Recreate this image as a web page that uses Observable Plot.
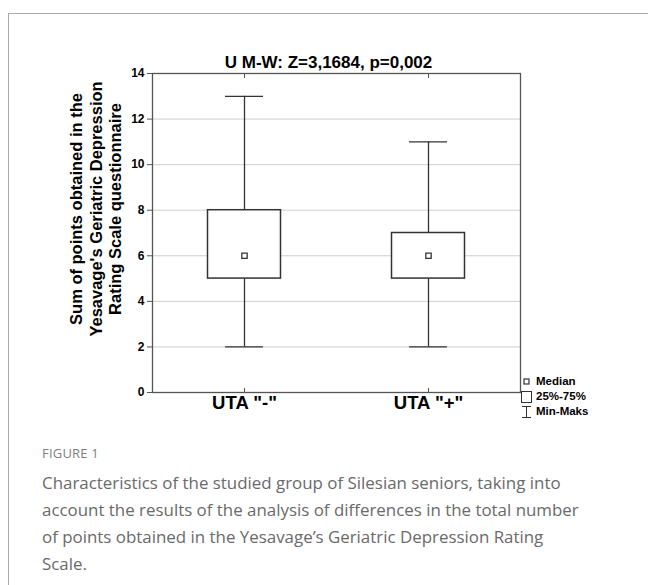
<!DOCTYPE html>
<html>
<head>
<meta charset="utf-8">
<script src="https://cdn.jsdelivr.net/npm/d3@7"></script>
<script src="https://cdn.jsdelivr.net/npm/@observablehq/plot@0.6"></script>
<style>
  html, body { margin: 0; padding: 0; background: #fff; }
  body { width: 648px; height: 585px; position: relative; overflow: hidden; }
  #card { position: absolute; left: 8px; top: 13px; width: 800px; height: 800px; border: 1px solid #aaa; box-sizing: border-box; }
  #chart { position: absolute; left: 0; top: 0; }
  #legend { position: absolute; left: 521px; top: 374px; font: bold 11.5px "Liberation Sans", Arial, sans-serif; color: #000; }
  #legend div { height: 15px; line-height: 15px; display: flex; align-items: center; }
  #legend svg { margin-right: 4px; }
  #figlabel { position: absolute; left: 42px; top: 444px; font: 13px "Open Sans", sans-serif; color: #808080; letter-spacing: 0.2px; }
  #caption { position: absolute; left: 42px; top: 469px; font: 16.9px/27px "Open Sans", sans-serif; color: #6a6a6a; width: 610px; }
</style>
</head>
<body>
<div id="card"></div>
<div id="chart"></div>
<div id="legend">
  <div><svg width="11" height="9"><rect x="3" y="2" width="5" height="5" fill="white" stroke="#333" stroke-width="1.2"/></svg>Median</div>
  <div><svg width="11" height="12"><rect x="0.5" y="0.5" width="10" height="11" fill="white" stroke="#333" stroke-width="1"/></svg>25%-75%</div>
  <div><svg width="11" height="14"><path d="M1,1.5H10M5.5,1.5V12.5M1,12.5H10" fill="none" stroke="#333" stroke-width="1"/></svg>Min-Maks</div>
</div>
<div id="figlabel">FIGURE 1</div>
<div id="caption">Characteristics of the studied group of Silesian seniors, taking into<br>account the results of the analysis of differences in the total number<br>of points obtained in the Yesavage’s Geriatric Depression Rating<br>Scale.</div>
<script>
const groups = ['UTA "-"', 'UTA "+"'];
const minVals = [2, 2];
const q1Vals = [5, 5];
const medianVals = [6, 6];
const q3Vals = [8, 7];
const maxVals = [13, 11];
const yTicks = [0, 2, 4, 6, 8, 10, 12, 14];
const titleText = "U M-W: Z=3,1684, p=0,002";
const yLabel = "Sum of points obtained in the\nYesavage's Geriatric Depression\nRating Scale questionnaire";

const data = groups.map((g, i) => ({
  group: g, min: minVals[i], q1: q1Vals[i], median: medianVals[i], q3: q3Vals[i], max: maxVals[i]
}));

const ink = "#333";
const chart = Plot.plot({
  width: 648,
  height: 430,
  marginLeft: 152,
  marginRight: 128,
  marginTop: 73,
  marginBottom: 38,
  style: { fontFamily: '"Liberation Sans", Arial, sans-serif', fontWeight: "bold", color: "#000", background: "transparent" },
  x: { type: "band", domain: groups, padding: 0 },
  y: { domain: [0, 14] },
  marks: [
    Plot.gridY(yTicks, { stroke: "#cfcfcf", strokeOpacity: 1 }),
    Plot.ruleX(data, { x: "group", y1: "min", y2: "q1", stroke: ink, strokeWidth: 1.3 }),
    Plot.ruleX(data, { x: "group", y1: "q3", y2: "max", stroke: ink, strokeWidth: 1.3 }),
    Plot.tickY(data, { x: "group", y: "min", insetLeft: 73, insetRight: 73, stroke: ink, strokeWidth: 1.3 }),
    Plot.tickY(data, { x: "group", y: "max", insetLeft: 73, insetRight: 73, stroke: ink, strokeWidth: 1.3 }),
    Plot.barY(data, { x: "group", y1: "q1", y2: "q3", fill: "white", stroke: ink, strokeWidth: 1.5, insetLeft: 55.5, insetRight: 55.5 }),
    Plot.dot(data, { x: "group", y: "median", symbol: "square", r: 3, fill: "white", stroke: ink, strokeWidth: 1.3 }),
    Plot.frame({ stroke: "#555", strokeWidth: 1.3 }),
    Plot.axisY(yTicks, { tickSize: 5, text: null, label: null, stroke: "#555" }),
    Plot.text(yTicks, { y: d => d, frameAnchor: "left", dx: -8, textAnchor: "end", fontSize: 12, fontWeight: "bold" }),
    Plot.axisX({ anchor: "bottom", tickSize: -4, text: null, label: null, stroke: "#555" }),
    Plot.axisX({ anchor: "top", tickSize: -4, text: null, label: null, stroke: "#555" }),
    Plot.text(groups, { x: d => d, frameAnchor: "bottom", dy: 16, fontSize: 18.5, fontWeight: "bold" }),
    Plot.text([titleText], { frameAnchor: "top", dx: -8, dy: -18, fontSize: 17, fontWeight: "bold" }),
    Plot.text([yLabel], { frameAnchor: "left", textAnchor: "middle", rotate: -90, dx: -57, dy: -24, fontSize: 16.5, fontWeight: "bold", lineHeight: 1.18 })
  ]
});
document.getElementById("chart").appendChild(chart);
</script>
</body>
</html>
